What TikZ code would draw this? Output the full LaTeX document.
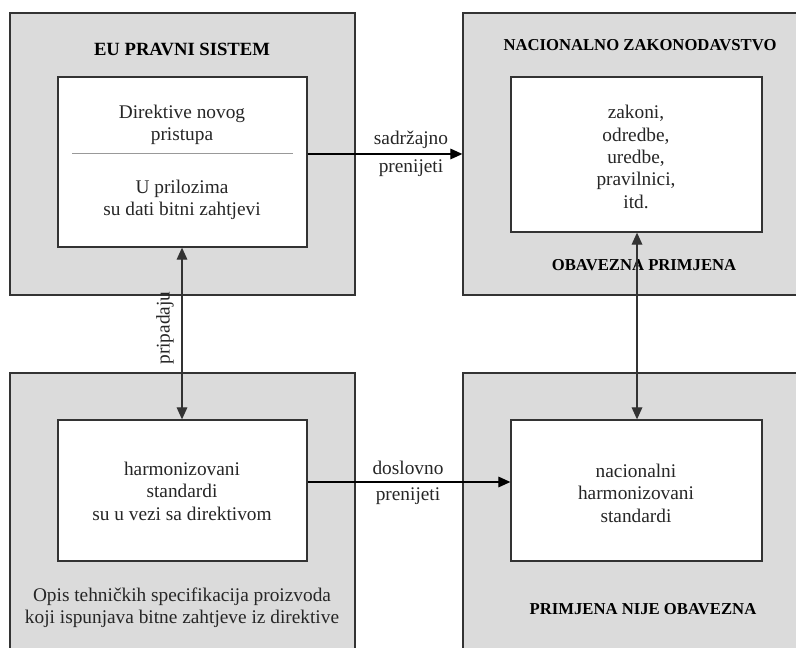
\documentclass[tikz,border=0pt]{standalone}
\usepackage{fontspec}
\setmainfont{Liberation Serif}
\usetikzlibrary{fit,arrows.meta}
\begin{document}
\begin{tikzpicture}[x=0.75pt,y=-0.75pt,
  outerbox/.style={draw=black!80, fill=black!14, line width=1pt, inner sep=0pt},
  innerbox/.style={draw=black!80, fill=white, line width=1pt, inner sep=0pt},
  txt/.style={font=\fontsize{14.5}{16.8}\selectfont, align=center, inner sep=0pt, text=black!85},
  hdr/.style={font=\bfseries\fontsize{12.5}{15}\selectfont, inner sep=0pt},
  tip/.tip={Triangle[length=9pt,width=8pt]},
  conn/.style={line width=0.9pt, draw=black, -tip},
  dconn/.style={line width=0.9pt, draw=black!80, tip-tip},
  sep/.style={draw=black!40, line width=0.6pt}
]
\useasboundingbox (0,0) rectangle (796,648);
\clip (0,0) rectangle (796,648);
\fill[white] (0,0) rectangle (796,648);

% outer boxes
\node[outerbox, fit={(10,13) (355,295)}] (tlo) {};
\node[outerbox, fit={(463,13) (830,295)}] (tro) {};
\node[outerbox, fit={(10,373) (355,690)}] (blo) {};
\node[outerbox, fit={(463,373) (830,690)}] (bro) {};

% inner boxes
\node[innerbox, fit={(58,77) (307,247)}] (tli) {};
\node[innerbox, fit={(511,77) (762,232)}] (tri) {};
\node[innerbox, fit={(58,420) (307,561)}] (bli) {};
\node[innerbox, fit={(511,420) (762,561)}] (bri) {};

% texts
\node[hdr, font=\bfseries\fontsize{14}{16}\selectfont] (tlh) at (182,49) {EU PRAVNI SISTEM};
\node[txt] (tl1) at (182,125) {Direktive novog\\pristupa};
\coordinate (sl) at (72,153);
\coordinate (sr) at (293,153);
\draw[sep] (sl) -- (sr);
\node[txt] (tl2) at (182,200) {U prilozima\\su dati bitni zahtjevi};

\node[hdr] (trh) at (640,45) {NACIONALNO ZAKONODAVSTVO};
\node[txt] (trt) at (636,157) {zakoni,\\odredbe,\\uredbe,\\pravilnici,\\itd.};
\node[hdr] (trf) at (644,265) {OBAVEZNA PRIMJENA};

\node[txt] (blt) at (182,491) {harmonizovani\\standardi\\su u vezi sa direktivom};
\node[txt] (blf) at (182,608) {Opis tehničkih specifikacija proizvoda\\koji ispunjava bitne zahtjeve iz direktive};

\node[txt] (brt) at (636,493) {nacionalni\\harmonizovani\\standardi};
\node[hdr] (brf) at (643,609) {PRIMJENA NIJE OBAVEZNA};

% connectors
\coordinate (ya) at (0,154);
\coordinate (yb) at (0,482);
\coordinate (xa) at (182,0);
\coordinate (xb) at (637,0);
\draw[conn] (tli.east |- ya) -- (tro.west |- ya);
\node[txt] (l1) at (411,140) {sadržajno};
\node[txt] (l2) at (411,168) {prenijeti};

\draw[conn] (bli.east |- yb) -- (bri.west |- yb);
\node[txt] (l3) at (408,468) {doslovno};
\node[txt] (l4) at (408,496) {prenijeti};

\draw[dconn] (tli.south -| xa) -- (bli.north -| xa);
\node[txt, rotate=90] (l5) at (165,328) {pripadaju};

\draw[dconn] (tri.south -| xb) -- (bri.north -| xb);
\end{tikzpicture}
\end{document}
